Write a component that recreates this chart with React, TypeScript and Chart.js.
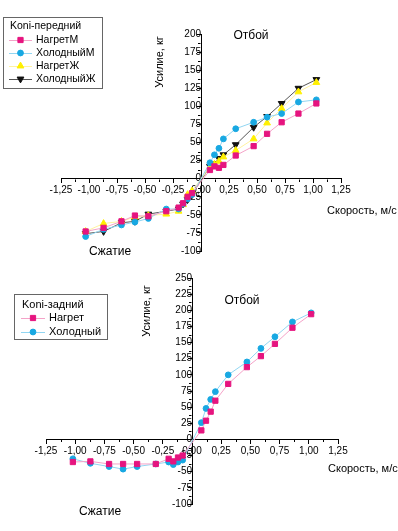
import React, { useEffect, useRef } from 'react';
import { Chart, registerables } from 'chart.js';

Chart.register(...registerables);

const FONT = '"Liberation Sans", Arial, Helvetica, sans-serif';

// ---------- Chart 1: Koni-передний ----------
const frontSpeed = [-1.03, -0.87, -0.71, -0.59, -0.47, -0.31, -0.2, -0.16, -0.12, -0.08, 0.08, 0.12, 0.16, 0.2, 0.31, 0.47, 0.59, 0.72, 0.87, 1.03];
const frontHotM = [-73, -68, -59, -51, -52, -45, -40, -34, -25, -20, 12, 17, 15, 19, 32, 45, 62, 78, 90, 104];
const frontColdM = [-80, -70, -64, -60, -55, -42, -42, -35, -28, -22, 22, 33, 42, 55, 69, 78, 85, 90, 106, 109];
const frontHotZh = [-73, -62, -59, -53, -51, -49, -45, -36, -22, -17, 16, 20, 24, 30, 39, 55, 77, 97, 120, 133];
const frontColdZh = [-76, -73, -61, -59, -49, -45, -42, -35, -29, -22, 17, 21, 28, 33, 47, 71, 86, 104, 125, 137];
const frontLabels = ['НагретМ', 'ХолодныйМ', 'НагретЖ', 'ХолодныйЖ'];

// ---------- Chart 2: Koni-задний ----------
const rearSpeed = [-1.02, -0.87, -0.71, -0.59, -0.47, -0.31, -0.2, -0.16, -0.12, -0.08, 0.08, 0.12, 0.16, 0.2, 0.31, 0.47, 0.59, 0.71, 0.86, 1.02];
const rearHot = [-35, -34, -38, -38, -38, -38, -30, -34, -28, -25, 14, 29, 43, 60, 86, 112, 129, 148, 173, 194];
const rearCold = [-30, -37, -42, -46, -42, -38, -35, -39, -35, -32, 26, 48, 62, 74, 100, 120, 141, 159, 182, 196];
const rearLabels = ['Нагрет', 'Холодный'];

const xTicksMin = -1.25;
const xTicksMax = 1.25;

const STYLES = {
  pink: { line: '#f4a3c8', point: '#e6147f', pointStyle: 'rect', rotation: 0, radius: 3.7 },
  cyan: { line: '#92d6f2', point: '#18a8e2', pointStyle: 'circle', rotation: 0, radius: 2.9 },
  yellow: { line: '#fff3a0', point: '#fff000', pointStyle: 'triangle', rotation: 0, radius: 3.9 },
  black: { line: '#555555', point: '#111111', pointStyle: 'triangle', rotation: 180, radius: 3.9 },
};

function mkDataset(label: string, xs: number[], ys: number[], st: any) {
  return {
    label,
    data: xs.map((x, i) => ({ x, y: ys[i] })),
    borderColor: st.line,
    borderWidth: 1,
    backgroundColor: st.point,
    pointBackgroundColor: st.point,
    pointBorderColor: st.point,
    pointBorderWidth: 1,
    pointStyle: st.pointStyle,
    pointRotation: st.rotation,
    pointRadius: st.radius,
    showLine: true,
    tension: 0,
  };
}

function drawMarker(ctx: CanvasRenderingContext2D, style: string, rotation: number, r: number, x: number, y: number, color: string) {
  ctx.save();
  ctx.fillStyle = color;
  ctx.strokeStyle = color;
  ctx.translate(x, y);
  ctx.rotate((rotation * Math.PI) / 180);
  ctx.beginPath();
  if (style === 'rect') {
    const s = Math.SQRT1_2 * r;
    ctx.rect(-s, -s, 2 * s, 2 * s);
  } else if (style === 'circle') {
    ctx.arc(0, 0, r, 0, Math.PI * 2);
  } else {
    ctx.moveTo(0, -r);
    ctx.lineTo(r * 0.866, r * 0.5);
    ctx.lineTo(-r * 0.866, r * 0.5);
    ctx.closePath();
  }
  ctx.fill();
  ctx.stroke();
  ctx.restore();
}

const decorPlugin = {
  id: 'decor',
  afterDraw(chart: any, _args: any, opts: any) {
    const ctx: CanvasRenderingContext2D = chart.ctx;
    const xs = chart.scales.x;
    const ys = chart.scales.y;
    ctx.save();
    // minor ticks
    ctx.strokeStyle = '#000';
    ctx.lineWidth = 1;
    const y0 = Math.round(ys.getPixelForValue(0)) + 0.5;
    const x0 = Math.round(xs.getPixelForValue(0)) - 0.5;
    for (let v = xs.min + opts.xStep / 2; v < xs.max; v += opts.xStep) {
      const px = Math.round(xs.getPixelForValue(v)) + 0.5;
      ctx.beginPath();
      ctx.moveTo(px, y0);
      ctx.lineTo(px, y0 + 2.5);
      ctx.stroke();
    }
    for (let v = ys.min + opts.yStep / 2; v < ys.max; v += opts.yStep) {
      const py = Math.round(ys.getPixelForValue(v)) + 0.5;
      ctx.beginPath();
      ctx.moveTo(x0, py);
      ctx.lineTo(x0 - 2.5, py);
      ctx.stroke();
    }
    // texts
    ctx.fillStyle = '#000';
    for (const t of opts.texts || []) {
      ctx.save();
      ctx.font = `${t.size || 11}px ${FONT}`;
      ctx.textAlign = t.align || 'center';
      ctx.textBaseline = 'middle';
      ctx.translate(t.x, t.y);
      if (t.rotate) ctx.rotate((t.rotate * Math.PI) / 180);
      ctx.fillText(t.text, 0, 0);
      ctx.restore();
    }
    // legend
    const lg = opts.legend;
    if (lg) {
      ctx.fillStyle = '#fff';
      ctx.fillRect(lg.x, lg.y, lg.w, lg.h);
      ctx.strokeStyle = '#666';
      ctx.lineWidth = 1;
      ctx.strokeRect(lg.x + 0.5, lg.y + 0.5, lg.w, lg.h);
      ctx.fillStyle = '#000';
      ctx.font = `${lg.size}px ${FONT}`;
      ctx.textAlign = 'left';
      ctx.textBaseline = 'middle';
      ctx.fillText(lg.title, lg.x + lg.pad, lg.y + lg.titleY);
      chart.data.datasets.forEach((ds: any, i: number) => {
        const cy = lg.y + lg.firstY + i * lg.rowH;
        const lx = lg.x + lg.pad - 1;
        ctx.strokeStyle = ds.borderColor;
        ctx.lineWidth = 1;
        ctx.beginPath();
        ctx.moveTo(lx, cy + 0.5);
        ctx.lineTo(lx + lg.lineW, cy + 0.5);
        ctx.stroke();
        drawMarker(ctx, ds.pointStyle, ds.pointRotation, ds.pointRadius, lx + lg.lineW / 2, cy, ds.pointBackgroundColor);
        ctx.fillStyle = '#000';
        ctx.fillText(ds.label, lx + lg.lineW + 4, cy);
      });
    }
    ctx.restore();
  },
};

function axisConfig(yMin: number, yMax: number) {
  const tickFont = { family: FONT, size: 10 };
  return {
    x: {
      type: 'linear',
      min: xTicksMin,
      max: xTicksMax,
      position: { y: 0 },
      ticks: {
        stepSize: 0.25,
        autoSkip: false,
        maxRotation: 0,
        color: '#000',
        font: tickFont,
        padding: 2,
        callback: (v: number) => v.toFixed(2).replace('.', ','),
      },
      grid: { drawOnChartArea: false, drawTicks: true, tickLength: 4, color: '#000', lineWidth: 1 },
      border: { display: true, color: '#000', width: 1 },
    },
    y: {
      type: 'linear',
      min: yMin,
      max: yMax,
      position: { x: 0 },
      ticks: {
        stepSize: 25,
        autoSkip: false,
        color: '#000',
        font: tickFont,
        padding: 2,
        callback: (v: number) => String(Math.round(v)),
      },
      grid: { drawOnChartArea: false, drawTicks: true, tickLength: 4, color: '#000', lineWidth: 1 },
      border: { display: true, color: '#000', width: 1 },
    },
  };
}

function ChartPanel({ width, height, top, config }: { width: number; height: number; top: number; config: any }) {
  const ref = useRef<HTMLCanvasElement | null>(null);
  useEffect(() => {
    if (!ref.current) return;
    const chart = new Chart(ref.current, config);
    return () => chart.destroy();
  }, []);
  return (
    <canvas
      ref={ref}
      width={width}
      height={height}
      style={{ position: 'absolute', left: 0, top, width, height, display: 'block' }}
    />
  );
}

const frontConfig = {
  type: 'scatter',
  data: {
    datasets: [
      mkDataset(frontLabels[0], frontSpeed, frontHotM, STYLES.pink),
      mkDataset(frontLabels[1], frontSpeed, frontColdM, STYLES.cyan),
      mkDataset(frontLabels[2], frontSpeed, frontHotZh, STYLES.yellow),
      mkDataset(frontLabels[3], frontSpeed, frontColdZh, STYLES.black),
    ],
  },
  options: {
    responsive: false,
    animation: false,
    devicePixelRatio: 1,
    layout: { padding: { left: 61, right: 57, top: 34, bottom: 19 } },
    scales: axisConfig(-100, 200),
    plugins: {
      legend: { display: false },
      tooltip: { enabled: false },
      decor: {
        xStep: 0.25,
        yStep: 25,
        texts: [
          { text: 'Отбой', x: 251, y: 36, size: 12 },
          { text: 'Сжатие', x: 110, y: 252, size: 12 },
          { text: 'Скорость, м/с', x: 327, y: 211, size: 11, align: 'left' },
          { text: 'Усилие, кг', x: 160, y: 62, size: 11, rotate: -90 },
        ],
        legend: { x: 3, y: 17, w: 99, h: 71, title: 'Koni-передний', size: 10.5, pad: 7, titleY: 9, firstY: 23, rowH: 13, lineW: 23 },
      },
    },
  },
  plugins: [decorPlugin],
};

const rearConfig = {
  type: 'scatter',
  data: {
    datasets: [
      mkDataset(rearLabels[0], rearSpeed, rearHot, STYLES.pink),
      mkDataset(rearLabels[1], rearSpeed, rearCold, STYLES.cyan),
    ],
  },
  options: {
    responsive: false,
    animation: false,
    devicePixelRatio: 1,
    layout: { padding: { left: 46, right: 60, top: 8, bottom: 27 } },
    scales: axisConfig(-100, 250),
    plugins: {
      legend: { display: false },
      tooltip: { enabled: false },
      decor: {
        xStep: 0.25,
        yStep: 25,
        texts: [
          { text: 'Отбой', x: 242, y: 31, size: 12 },
          { text: 'Сжатие', x: 100, y: 242, size: 12 },
          { text: 'Скорость, м/с', x: 328, y: 199, size: 11, align: 'left' },
          { text: 'Усилие, кг', x: 147, y: 41, size: 11, rotate: -90 },
        ],
        legend: { x: 14, y: 24, w: 93, h: 45, title: 'Koni-задний', size: 11, pad: 8, titleY: 11, firstY: 24, rowH: 14, lineW: 24 },
      },
    },
  },
  plugins: [decorPlugin],
};

export default function App() {
  return (
    <div style={{ position: 'absolute', left: 0, top: 0, width: 398, height: 531, background: '#fff', overflow: 'hidden' }}>
      <ChartPanel width={398} height={270} top={0} config={frontConfig} />
      <ChartPanel width={398} height={261} top={270} config={rearConfig} />
    </div>
  );
}
